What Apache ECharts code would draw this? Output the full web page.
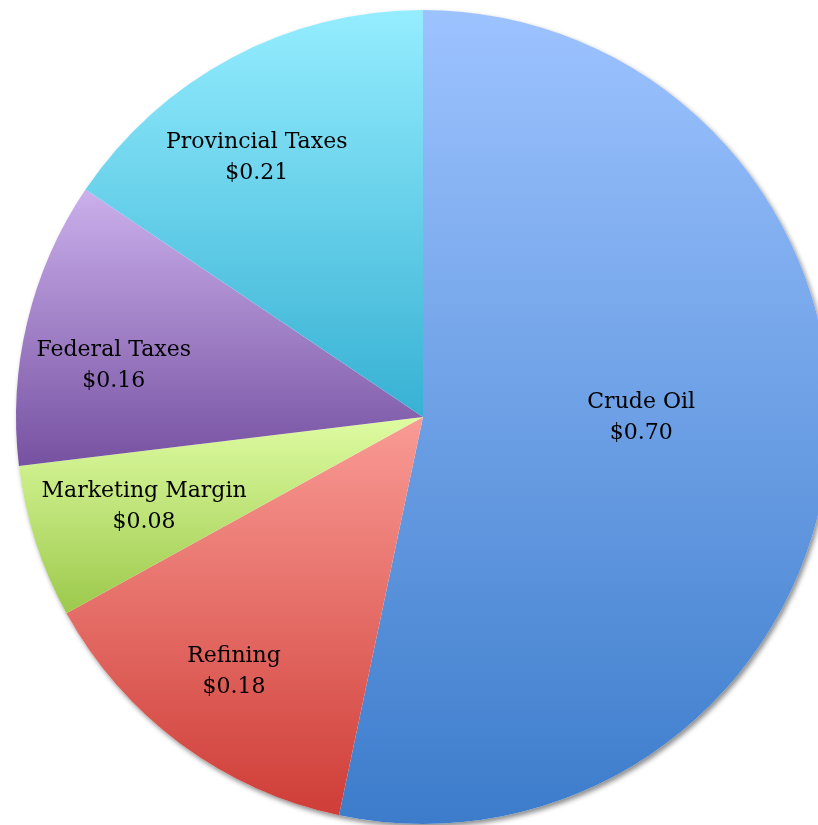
<!DOCTYPE html>
<html>
<head>
<meta charset="utf-8">
<script src="https://cdn.jsdelivr.net/npm/echarts@6/dist/echarts.min.js"></script>
<style>
  html, body { margin: 0; padding: 0; background: #fff; }
  #chart { width: 818px; height: 825px; }
</style>
</head>
<body>
<div id="chart"></div>
<script>
// 数据 (扇区大小按图上角度估计, 标签为图上文字)
const categories = ['Crude Oil', 'Refining', 'Marketing Margin', 'Federal Taxes', 'Provincial Taxes'];
const values = [0.709, 0.182, 0.081, 0.151, 0.207];
const valueLabels = ['$0.70', '$0.18', '$0.08', '$0.16', '$0.21'];
// 渐变色 上 -> 下
const topColors = ['#9dc3ff', '#fa9b95', '#dffca2', '#cbb0ec', '#95edff'];
const bottomColors = ['#3c7ccb', '#cf3d37', '#9cc94c', '#7651a1', '#37b1d3'];

const center = [423, 417];
const radius = 407;
// 标签位置: 半径比例 和 角度偏移(度, 顺时针为正)
const labelRadius = [0.536, 0.78, 0.72, 0.77, 0.756];
const labelTurn = [-5.7, 0, 0, -4.2, -4.7];

const chart = echarts.init(document.getElementById('chart'));

const option = {
  animation: false,
  series: [
    {
      // 底层阴影
      type: 'pie',
      silent: true,
      center: center,
      radius: radius,
      z: 1,
      label: { show: false },
      itemStyle: {
        color: '#ffffff',
        shadowColor: 'rgba(0,0,0,0.45)',
        shadowBlur: 5,
        shadowOffsetX: 2,
        shadowOffsetY: 3
      },
      data: [1]
    },
    {
      type: 'pie',
      center: center,
      radius: radius,
      startAngle: 90,
      clockwise: true,
      z: 2,
      label: {
        show: true,
        position: 'inside',
        color: '#000',
        fontFamily: 'DejaVu Serif',
        fontSize: 22,
        lineHeight: 31,
        formatter: p => p.name + '\n' + valueLabels[p.dataIndex]
      },
      labelLine: { show: false },
      labelLayout: params => {
        const r = params.labelRect;
        const i = params.dataIndex;
        const dx = r.x + r.width / 2 - center[0];
        const dy = r.y + r.height / 2 - center[1];
        const a = Math.atan2(dy, dx) + labelTurn[i] * Math.PI / 180;
        const d = labelRadius[i] * radius;
        return {
          x: center[0] + Math.cos(a) * d,
          y: center[1] + Math.sin(a) * d
        };
      },
      data: categories.map((name, i) => ({
        name: name,
        value: values[i],
        itemStyle: {
          color: new echarts.graphic.LinearGradient(0, 0, 0, 1, [
            { offset: 0, color: topColors[i] },
            { offset: 1, color: bottomColors[i] }
          ])
        }
      }))
    }
  ]
};
chart.setOption(option);
</script>
</body>
</html>
